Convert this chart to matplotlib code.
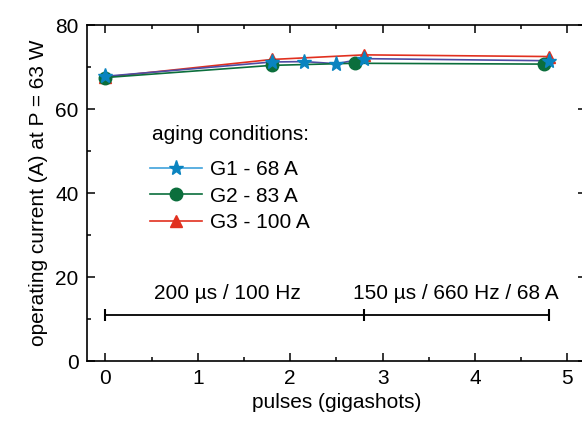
import matplotlib
matplotlib.use('Agg')
import matplotlib.pyplot as plt
from matplotlib.lines import Line2D
from matplotlib.ticker import MultipleLocator

# operating current at P = 63 W vs accumulated pulses
g1_x = [0.0, 1.8, 2.15, 2.5, 2.8, 4.8]
g1_y = [67.8, 71.2, 71.3, 70.8, 72.0, 71.5]
g2_x = [0.0, 1.8, 2.7, 4.75]
g2_y = [67.5, 70.4, 70.9, 70.7]
g3_x = [0.0, 1.8, 2.8, 4.8]
g3_y = [67.6, 71.8, 72.9, 72.5]

labels = ['G1 - 68 A', 'G2 - 83 A', 'G3 - 100 A']

# operating regimes along the pulse axis
regime_edges = [0.0, 2.8, 4.8]
regime_text = ['200 µs / 100 Hz', '150 µs / 660 Hz / 68 A']
regime_level = 11

plt.rcParams['font.family'] = ['Liberation Sans', 'DejaVu Sans']
plt.rcParams['font.size'] = 15

fig = plt.figure(figsize=(5.82, 4.21), dpi=100)
ax = fig.add_axes([0.1495, 0.1425, 0.857, 0.798])

c1_line, c1_mark = '#4f4ba3', '#0a84c0'
c2 = '#0b6e3c'
c3 = '#e1301f'

ax.plot(g3_x, g3_y, color=c3, lw=1.2, marker='^', ms=9, mfc=c3, mec=c3, zorder=3)
ax.plot(g1_x, g1_y, color=c1_line, lw=1.2, zorder=3)
ax.plot(g2_x, g2_y, color=c2, lw=1.2, marker='o', ms=9, mfc=c2, mec=c2, zorder=4)
ax.plot(g1_x, g1_y, ls='none', marker='*', ms=11, mfc=c1_mark, mec=c1_mark, zorder=5)

# regime bar with end caps
ax.plot(regime_edges, [regime_level] * len(regime_edges), color='black', lw=1.3,
        marker='|', ms=8, mew=1.5)
text_x = [1.32, 3.79]
for xm, txt in zip(text_x, regime_text):
    ax.text(xm, 16.0, txt, ha='center', va='center', fontsize=15)

handles = [
    Line2D([0], [0], color='#3fa2dc', lw=1.2, marker='*', ms=11, mfc=c1_mark, mec=c1_mark),
    Line2D([0], [0], color=c2, lw=1.2, marker='o', ms=9, mfc=c2, mec=c2),
    Line2D([0], [0], color=c3, lw=1.2, marker='^', ms=9, mfc=c3, mec=c3),
]
ax.text(0.130, 0.673, 'aging conditions:', transform=ax.transAxes,
        ha='left', va='center', fontsize=15)
leg = ax.legend(handles, labels, loc='upper left',
                bbox_to_anchor=(0.126, 0.598), frameon=False, fontsize=15,
                handlelength=2.5, handletextpad=0.4,
                labelspacing=0.36, borderaxespad=0, borderpad=0)

ax.set_xlim(-0.2, 5.2)
ax.set_ylim(0, 80)
ax.xaxis.set_major_locator(MultipleLocator(1))
ax.xaxis.set_minor_locator(MultipleLocator(0.5))
ax.yaxis.set_major_locator(MultipleLocator(20))
ax.yaxis.set_minor_locator(MultipleLocator(10))
ax.tick_params(which='both', direction='in', top=True, right=True, width=1.1)
ax.tick_params(which='major', length=6, labelsize=15, pad=6)
ax.tick_params(which='minor', length=3)
for s in ax.spines.values():
    s.set_linewidth(1.2)

ax.set_xlabel('pulses (gigashots)', fontsize=15, labelpad=3)
ax.set_ylabel('operating current (A) at P = 63 W', fontsize=15, labelpad=5)

fig.savefig('out.png', dpi=100)
